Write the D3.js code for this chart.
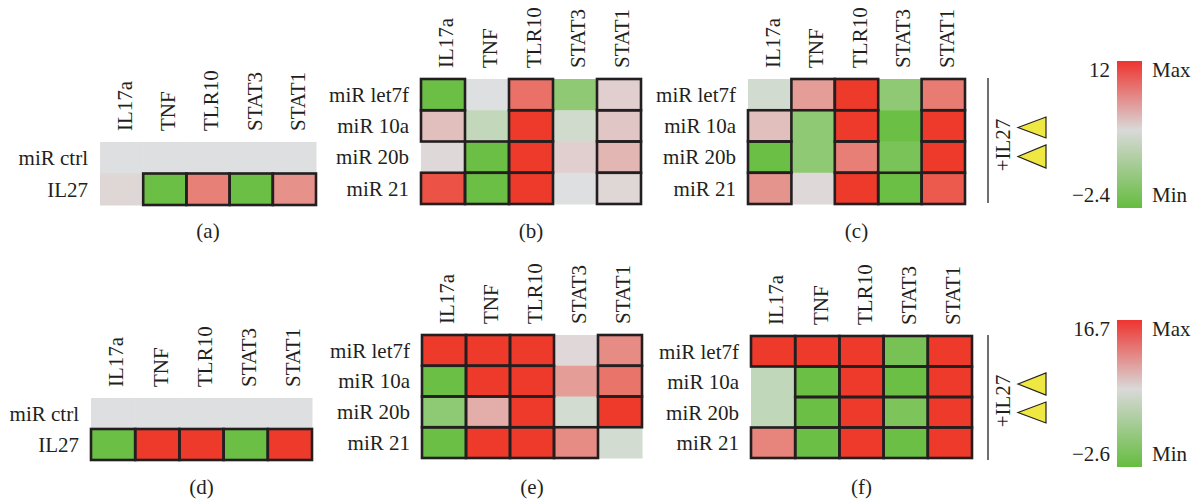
<!DOCTYPE html>
<html>
<head>
<meta charset="utf-8">
<script src="https://cdn.jsdelivr.net/npm/d3@7"></script>
<style>
  html, body { margin: 0; padding: 0; background: #fff; }
  svg { display: block; }
  text { font-family: "Liberation Serif", "DejaVu Serif", serif; fill: #231f20; }
</style>
</head>
<body>
<svg id="chart" width="1194" height="500"></svg>
<script>
// ---------------- data ----------------
const genes = ["IL17a", "TNF", "TLR10", "STAT3", "STAT1"];
const ctrlRows = ["miR ctrl", "IL27"];
const mirRows = ["miR let7f", "miR 10a", "miR 20b", "miR 21"];
const panelLabels = ["(a)", "(b)", "(c)", "(d)", "(e)", "(f)"];

const topRange = [-2.4, 12];      // legend for panels a-c
const bottomRange = [-2.6, 16.7]; // legend for panels d-f
const topRangeLabels = ["12", "\u22122.4"];
const bottomRangeLabels = ["16.7", "\u22122.6"];
const legendWords = ["Max", "Min"];
const treatmentLabel = "+IL27";

// panel (a)
const valuesA = [
  [4.8, 4.8, 4.8, 4.8, 4.8],
  [5.2, -2.4, 8.9, -2.4, 8.2]
];
const boxA = [
  [0, 0, 0, 0, 0],
  [0, 1, 1, 1, 1]
];
// panel (b)
const valuesB = [
  [-2.4, 4.8, 9.6, -0.2, 5.5],
  [6.2, 3.1, 12, 3.9, 5.9],
  [5.1, -2.4, 12, 5.5, 6.6],
  [10.9, -2.4, 12, 4.8, 5.2]
];
const boxB = [
  [1, 0, 1, 0, 1],
  [1, 0, 1, 0, 1],
  [0, 1, 1, 0, 1],
  [1, 1, 1, 0, 1]
];
// panel (c)
const valuesC = [
  [4.0, 7.7, 12, -0.2, 9.1],
  [6.2, -0.2, 12, -2.4, 12],
  [-2.4, -0.2, 9.0, -1.5, 12],
  [8.1, 5.1, 12, -2.4, 10.6]
];
const boxC = [
  [0, 1, 1, 0, 1],
  [1, 0, 1, 0, 1],
  [1, 0, 1, 0, 1],
  [1, 0, 1, 1, 1]
];
// panel (d)
const valuesD = [
  [7.05, 7.05, 7.05, 7.05, 7.05],
  [-2.6, 16.7, 16.7, -2.6, 16.7]
];
const boxD = [
  [0, 0, 0, 0, 0],
  [1, 1, 1, 1, 1]
];
// panel (e)
const valuesE = [
  [16.7, 16.7, 16.7, 7.5, 11.9],
  [-2.6, 16.7, 16.7, 10.9, 13.3],
  [0.3, 9.9, 16.7, 6.1, 16.7],
  [-2.6, 16.7, 16.7, 11.9, 6.1]
];
const boxE = [
  [1, 1, 1, 0, 1],
  [1, 1, 1, 0, 1],
  [1, 1, 1, 0, 1],
  [1, 1, 1, 1, 0]
];
// panel (f)
const valuesF = [
  [16.7, 16.7, 16.7, -1.6, 16.7],
  [4.6, -2.6, 16.7, -2.6, 16.7],
  [4.6, -2.6, 16.7, -1.2, 16.7],
  [12.4, -2.6, 16.7, -2.6, 16.7]
];
const boxF = [
  [1, 1, 1, 1, 1],
  [0, 1, 1, 1, 1],
  [0, 1, 1, 1, 1],
  [1, 1, 1, 1, 1]
];

// ---------------- layout / style ----------------
const GREEN = "#6cbf45", GRAY = "#dedfe0", RED = "#ee3a2a";
const makeColor = r => d3.scaleLinear()
  .domain([r[0], (r[0] + r[1]) / 2, r[1]])
  .range([GREEN, GRAY, RED]);

const panels = [
  { rows: ctrlRows, values: valuesA, box: boxA, range: topRange, x: [100, 316], y: [142, 205], label: panelLabels[0], labelY: 238 },
  { rows: mirRows, values: valuesB, box: boxB, range: topRange, x: [421, 641], y: [79, 204], label: panelLabels[1], labelY: 238 },
  { rows: mirRows, values: valuesC, box: boxC, range: topRange, x: [748, 965], y: [79, 204], label: panelLabels[2], labelY: 238 },
  { rows: ctrlRows, values: valuesD, box: boxD, range: bottomRange, x: [91, 312], y: [398, 460], label: panelLabels[3], labelY: 494 },
  { rows: mirRows, values: valuesE, box: boxE, range: bottomRange, x: [422, 642], y: [335, 458], label: panelLabels[4], labelY: 494 },
  { rows: mirRows, values: valuesF, box: boxF, range: bottomRange, x: [751, 972], y: [336, 458], label: panelLabels[5], labelY: 494 }
];

const svg = d3.select("#chart");
const FS = 21;

panels.forEach(p => {
  const color = makeColor(p.range);
  const xs = d3.scaleBand().domain(genes).range(p.x);
  const ys = d3.scaleBand().domain(p.rows).range(p.y);
  const g = svg.append("g");

  const cells = [];
  p.rows.forEach((r, i) => genes.forEach((c, j) => {
    cells.push({ row: r, col: c, v: p.values[i][j], b: p.box[i][j] });
  }));

  g.selectAll("rect.cell").data(cells).join("rect")
    .attr("class", "cell")
    .attr("x", d => xs(d.col))
    .attr("y", d => ys(d.row))
    .attr("width", xs.bandwidth() + 0.5)
    .attr("height", ys.bandwidth() + 0.5)
    .attr("fill", d => color(d.v));

  g.selectAll("rect.box").data(cells.filter(d => d.b)).join("rect")
    .attr("class", "box")
    .attr("x", d => xs(d.col))
    .attr("y", d => ys(d.row))
    .attr("width", xs.bandwidth())
    .attr("height", ys.bandwidth())
    .attr("fill", "none")
    .attr("stroke", "#231f20")
    .attr("stroke-width", 2.6);

  // row labels
  g.selectAll("text.row").data(p.rows).join("text")
    .attr("class", "row")
    .attr("x", p.x[0] - 12)
    .attr("y", d => ys(d) + ys.bandwidth() / 2)
    .attr("dy", "0.35em")
    .attr("text-anchor", "end")
    .attr("font-size", FS)
    .text(d => d);

  // column labels (rotated)
  g.selectAll("text.col").data(genes).join("text")
    .attr("class", "col")
    .attr("transform", d => `translate(${xs(d) + xs.bandwidth() / 2 + 3},${p.y[0] - 11}) rotate(-90)`)
    .attr("dy", "0.35em")
    .attr("text-anchor", "start")
    .attr("font-size", FS)
    .text(d => d);

  // panel label
  g.append("text")
    .attr("x", (p.x[0] + p.x[1]) / 2)
    .attr("y", p.labelY)
    .attr("text-anchor", "middle")
    .attr("font-size", FS)
    .text(p.label);
});

// ---------------- +IL27 annotations ----------------
const annotations = [
  { line: [78, 203], textY: 145, tris: [[117, 138], [145, 168]] },
  { line: [335, 460], textY: 401, tris: [[373, 395], [402, 423]] }
];
annotations.forEach(a => {
  svg.append("line")
    .attr("x1", 988).attr("x2", 988)
    .attr("y1", a.line[0]).attr("y2", a.line[1])
    .attr("stroke", "#231f20").attr("stroke-width", 1.3);
  svg.append("text")
    .attr("transform", `translate(1003,${a.textY}) rotate(-90)`)
    .attr("text-anchor", "middle")
    .attr("dy", "0.35em")
    .attr("font-size", FS)
    .text(treatmentLabel);
  a.tris.forEach(t => {
    svg.append("path")
      .attr("d", `M1018,${(t[0] + t[1]) / 2} L1046,${t[0]} L1046,${t[1]} Z`)
      .attr("fill", "#efe843")
      .attr("stroke", "#231f20")
      .attr("stroke-width", 1.2)
      .attr("stroke-linejoin", "miter");
  });
});

// ---------------- legends ----------------
const defs = svg.append("defs");
const grad = defs.append("linearGradient")
  .attr("id", "legGrad").attr("x1", 0).attr("y1", 0).attr("x2", 0).attr("y2", 1);
grad.append("stop").attr("offset", "0%").attr("stop-color", "#ee3430");
grad.append("stop").attr("offset", "47%").attr("stop-color", "#d9d9d9");
grad.append("stop").attr("offset", "100%").attr("stop-color", "#66bc40");

const legends = [
  { y: [61, 208], labels: topRangeLabels, base: [77, 202] },
  { y: [320, 467], labels: bottomRangeLabels, base: [336, 461] }
];
legends.forEach(l => {
  svg.append("rect")
    .attr("x", 1117).attr("y", l.y[0])
    .attr("width", 25).attr("height", l.y[1] - l.y[0])
    .attr("fill", "url(#legGrad)");
  [0, 1].forEach(i => {
    svg.append("text")
      .attr("x", 1110).attr("y", l.base[i])
      .attr("text-anchor", "end")
      .attr("font-size", FS)
      .text(l.labels[i]);
    svg.append("text")
      .attr("x", 1152).attr("y", l.base[i])
      .attr("text-anchor", "start")
      .attr("font-size", FS)
      .text(legendWords[i]);
  });
});
</script>
</body>
</html>
